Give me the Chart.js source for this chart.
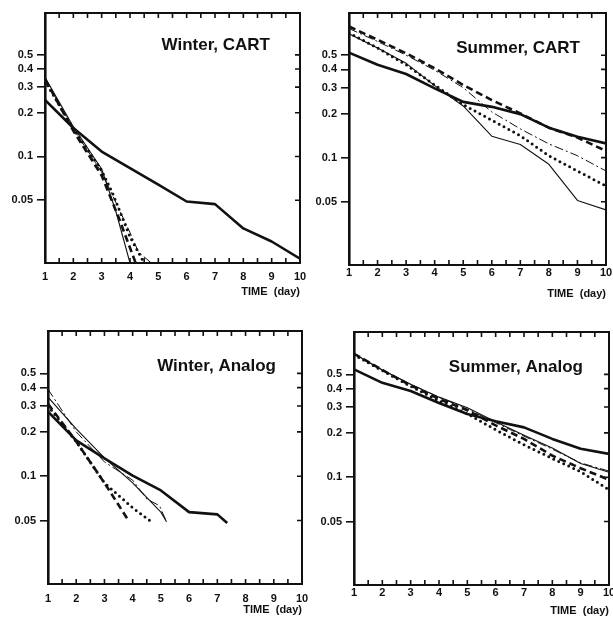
<!DOCTYPE html>
<html>
<head>
<meta charset="utf-8">
<script src="https://cdn.jsdelivr.net/npm/chart.js@4.4.0/dist/chart.umd.min.js"></script>
<style>
  html, body { margin: 0; padding: 0; background: #fff; overflow: hidden; width: 613px; height: 619px; }
  canvas { position: absolute; }
</style>
</head>
<body>
<canvas id="wc"></canvas>
<canvas id="sc"></canvas>
<canvas id="wa"></canvas>
<canvas id="sa"></canvas>
<script>
// axis values
const days = [1, 2, 3, 4, 5, 6, 7, 8, 9, 10];
const xTickLabels = ["1", "2", "3", "4", "5", "6", "7", "8", "9", "10"];
const yTickValues = [0.05, 0.1, 0.2, 0.3, 0.4, 0.5];
const yTickLabels = ["0.05", "0.1", "0.2", "0.3", "0.4", "0.5"];
const yMin = 0.0185;
const yMax = 0.97;

// Winter, CART
const wcThick = [0.245, 0.157, 0.108, 0.083, 0.064, 0.049, 0.047, 0.032, 0.026, 0.0198];
const wcThinX = [1, 2, 3, 3.5, 4.0];
const wcThin = [0.35, 0.16, 0.082, 0.042, 0.0185];
const wcDashX = [1, 2, 3, 3.6, 4.2];
const wcDash = [0.34, 0.15, 0.074, 0.038, 0.0185];
const wcDotX = [1, 2, 3, 3.4, 4, 4.5];
const wcDot = [0.33, 0.155, 0.08, 0.055, 0.028, 0.0185];
const wcDashDotX = [1, 2, 3, 4, 4.3, 4.75];
const wcDashDot = [0.34, 0.155, 0.078, 0.03, 0.022, 0.0185];

// Summer, CART
const scThick = [0.52, 0.43, 0.372, 0.297, 0.24, 0.222, 0.198, 0.16, 0.139, 0.125];
const scThin = [0.70, 0.56, 0.44, 0.31, 0.225, 0.14, 0.123, 0.09, 0.051, 0.044];
const scDash = [0.785, 0.637, 0.515, 0.407, 0.313, 0.247, 0.2, 0.16, 0.137, 0.111];
const scDot = [0.71, 0.56, 0.43, 0.313, 0.23, 0.18, 0.141, 0.103, 0.081, 0.064];
const scDashDot = [0.76, 0.62, 0.50, 0.395, 0.30, 0.205, 0.157, 0.124, 0.103, 0.081];

// Winter, Analog
const waThickX = [1, 2, 3, 4, 5, 6, 7, 7.35];
const waThick = [0.275, 0.175, 0.132, 0.101, 0.08, 0.057, 0.055, 0.048];
const waThinX = [1, 2, 3, 4, 5, 5.2];
const waThin = [0.345, 0.21, 0.133, 0.09, 0.057, 0.049];
const waDashX = [1, 2, 3, 3.85];
const waDash = [0.31, 0.172, 0.09, 0.05];
const waDotX = [1, 2, 3, 4, 4.72];
const waDot = [0.30, 0.172, 0.09, 0.061, 0.048];
const waDashDotX = [1, 2, 3, 4, 4.5, 4.95, 5.2];
const waDashDot = [0.39, 0.2, 0.125, 0.094, 0.07, 0.063, 0.049];

// Summer, Analog
const saThick = [0.54, 0.438, 0.385, 0.319, 0.269, 0.24, 0.218, 0.182, 0.156, 0.144];
const saThin = [0.69, 0.535, 0.428, 0.35, 0.296, 0.238, 0.193, 0.158, 0.124, 0.108];
const saDash = [0.69, 0.535, 0.42, 0.34, 0.285, 0.225, 0.182, 0.14, 0.115, 0.096];
const saDot = [0.68, 0.53, 0.415, 0.33, 0.27, 0.21, 0.166, 0.134, 0.109, 0.082];
const saDashDot = [0.69, 0.535, 0.428, 0.35, 0.29, 0.235, 0.19, 0.155, 0.125, 0.11];

const INK = "#111";
const FONT = "'Liberation Sans', Arial, sans-serif";

const lineStyles = {
  thick: { borderWidth: 2.6, borderDash: [] },
  thin: { borderWidth: 1.1, borderDash: [] },
  dash: { borderWidth: 2.6, borderDash: [7, 4] },
  dot: { borderWidth: 3, borderDash: [0, 5.5], borderCapStyle: "round" },
  dashdot: { borderWidth: 1, borderDash: [9, 3, 2, 3] },
};

const pts = (xs, ys) => xs.map((x, i) => ({ x: x, y: ys[i] }));

const panels = [
  {
    id: "wc", title: "Winter, CART", left: 45, top: 13, right: 299.5, bottom: 263, labelGap: 14, timeGap: 29,
    series: [
      [days, wcThick, "thick"], [wcThinX, wcThin, "thin"], [wcDashX, wcDash, "dash"],
      [wcDotX, wcDot, "dot"], [wcDashDotX, wcDashDot, "dashdot"],
    ],
  },
  {
    id: "sc", title: "Summer, CART", left: 349, top: 13, right: 606, bottom: 265, labelGap: 8, timeGap: 29,
    series: [
      [days, scThick, "thick"], [days, scThin, "thin"], [days, scDash, "dash"],
      [days, scDot, "dot"], [days, scDashDot, "dashdot"],
    ],
  },
  {
    id: "wa", title: "Winter, Analog", left: 48, top: 331, right: 302, bottom: 584, labelGap: 15, timeGap: 26.5,
    series: [
      [waThickX, waThick, "thick"], [waThinX, waThin, "thin"], [waDashX, waDash, "dash"],
      [waDotX, waDot, "dot"], [waDashDotX, waDashDot, "dashdot"],
    ],
  },
  {
    id: "sa", title: "Summer, Analog", left: 354, top: 332, right: 609, bottom: 585, labelGap: 8, timeGap: 26,
    series: [
      [days, saThick, "thick"], [days, saThin, "thin"], [days, saDash, "dash"],
      [days, saDot, "dot"], [days, saDashDot, "dashdot"],
    ],
  },
];

// box on top/right plus inward tick marks and the panel caption
const framePlugin = {
  id: "frame",
  afterDraw(chart, args, opts) {
    const { ctx, chartArea: a, scales } = chart;
    const x = scales.x, y = scales.y;
    ctx.save();
    ctx.strokeStyle = INK;
    ctx.lineWidth = 2;
    ctx.beginPath();
    ctx.moveTo(a.left, a.top);
    ctx.lineTo(a.right, a.top);
    ctx.lineTo(a.right, a.bottom);
    ctx.stroke();

    ctx.lineWidth = 1.6;
    ctx.beginPath();
    for (let d = 1.5; d < 10; d += 0.5) {
      const px = x.getPixelForValue(d);
      ctx.moveTo(px, a.bottom);
      ctx.lineTo(px, a.bottom - 5);
      ctx.moveTo(px, a.top);
      ctx.lineTo(px, a.top + 5);
    }
    yTickValues.forEach((v) => {
      const py = y.getPixelForValue(v);
      ctx.moveTo(a.right, py);
      ctx.lineTo(a.right - 5, py);
    });
    ctx.stroke();

    ctx.fillStyle = INK;
    ctx.font = "bold 17px " + FONT;
    ctx.textAlign = "right";
    ctx.textBaseline = "alphabetic";
    ctx.fillText(opts.title, a.right - opts.titleInset, a.top + opts.titleDrop);
    ctx.restore();
  },
};

panels.forEach((p) => {
  const padTop = 12, padRight = 16, yW = 50;
  const xH = Math.round(p.timeGap + 6.6);
  const plotW = p.right - p.left;
  const plotH = p.bottom - p.top;
  const cv = document.getElementById(p.id);
  cv.width = Math.round(yW + plotW + padRight);
  cv.height = Math.round(padTop + plotH + xH);
  cv.style.left = (p.left - yW) + "px";
  cv.style.top = (p.top - padTop) + "px";

  const datasets = p.series.map(([xs, ys, kind]) =>
    Object.assign(
      {
        data: pts(xs, ys),
        borderColor: INK,
        backgroundColor: INK,
        pointRadius: 0,
        fill: false,
        tension: 0,
        borderJoinStyle: "round",
      },
      lineStyles[kind]
    )
  );

  new Chart(cv.getContext("2d"), {
    type: "line",
    data: { datasets: datasets },
    options: {
      responsive: false,
      animation: false,
      events: [],
      layout: { padding: { top: padTop, right: cv.width - yW - Math.round(plotW), left: 0, bottom: 0 } },
      plugins: {
        legend: { display: false },
        tooltip: { enabled: false },
        frame: { title: p.title, titleInset: p.id.startsWith("w") && p.id === "wc" ? 30 : 26, titleDrop: p.id === "wc" ? 37 : 40 },
      },
      scales: {
        x: {
          type: "linear",
          min: 1,
          max: 10,
          afterBuildTicks: (s) => { s.ticks = days.map((v) => ({ value: v })); },
          afterFit: (s) => { s.height = xH; },
          ticks: {
            autoSkip: false,
            maxRotation: 0,
            padding: p.labelGap - 6.6,
            color: INK,
            font: { family: FONT, size: 11, weight: "bold" },
            callback: (v) => xTickLabels[days.indexOf(v)],
          },
          grid: { display: true, drawOnChartArea: false, drawTicks: false },
          border: { display: true, color: INK, width: 2 },
          title: {
            display: true,
            text: "TIME  (day)",
            align: "end",
            color: INK,
            padding: { top: 0, bottom: 0 },
            font: { family: FONT, size: 11, weight: "bold" },
          },
        },
        y: {
          type: "logarithmic",
          min: yMin,
          max: yMax,
          afterBuildTicks: (s) => { s.ticks = yTickValues.map((v) => ({ value: v })); },
          afterFit: (s) => { s.width = yW; },
          ticks: {
            padding: 4,
            color: INK,
            font: { family: FONT, size: 11, weight: "bold" },
            callback: (v) => yTickLabels[yTickValues.indexOf(v)],
          },
          grid: { drawOnChartArea: false, drawTicks: true, tickLength: 8, color: INK, lineWidth: 1.6 },
          border: { display: true, color: INK, width: 2.6 },
        },
      },
    },
    plugins: [framePlugin],
  });
});
</script>
</body>
</html>
